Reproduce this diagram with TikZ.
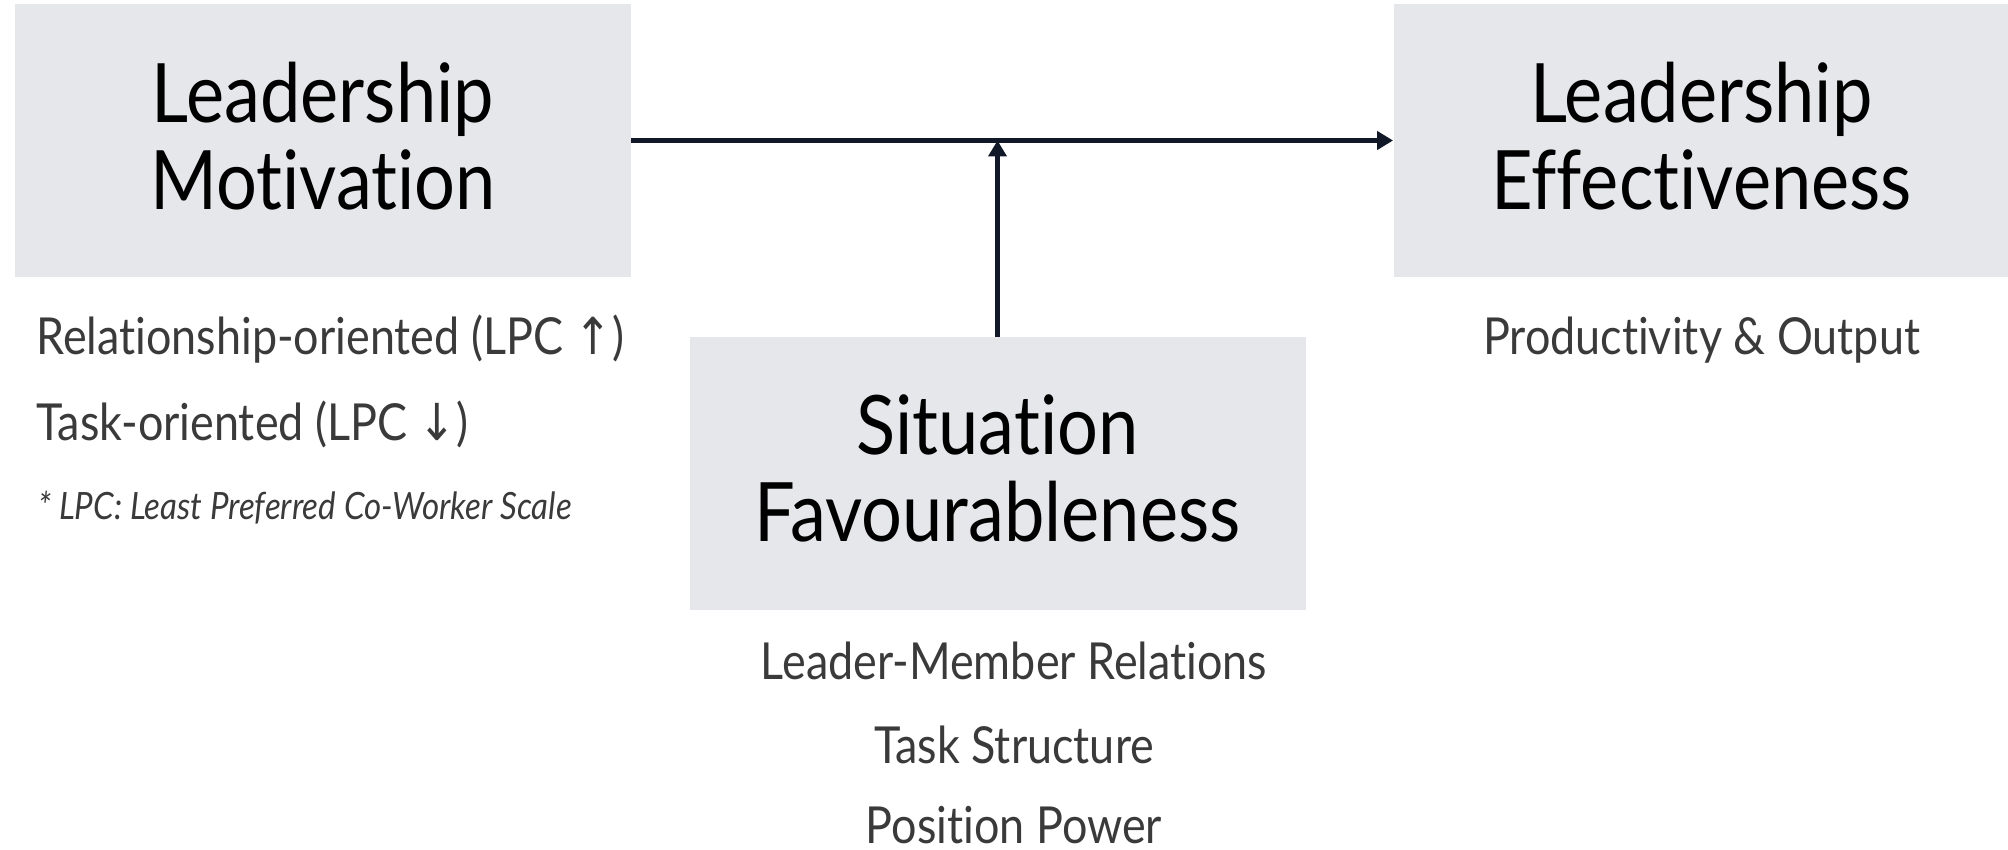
\documentclass[tikz,border=0pt]{standalone}
\usepackage{fontspec}
\setmainfont{Lato}[Ligatures=NoCommon,FakeStretch=0.88]
\newfontfamily\symfont{DejaVu Sans}[FakeStretch=0.88]
\usetikzlibrary{arrows.meta}
\definecolor{boxgray}{HTML}{E5E7EB}
\definecolor{linedark}{HTML}{111827}
\definecolor{notegray}{HTML}{3A3A3A}

\begin{document}
\begin{tikzpicture}[x=0.5pt,y=-0.5pt,
        factor/.style={rectangle,fill=boxgray,minimum width=308pt,minimum height=136.5pt,inner sep=0pt,text depth=5pt,align=center,text=black,font=\fontsize{41}{43.5}\selectfont},
        item/.style={inner sep=0pt,text=notegray,font=\fontsize{25.5}{30}\selectfont},
        link/.style={draw=linedark,line width=2.4pt,-{Triangle[length=8pt,width=9pt]}}]
        \useasboundingbox (0,0) rectangle (2008,850);
        % the three factors
        \node[factor] (motiv)  at (323,140.5)    {Leadership\\Motivation};
        \node[factor] (effect) at (1701.5,140.5) {Leadership\\Effectiveness};
        \node[factor] (situ)   at (997.5,473.5)  {Situation\\Favourableness};
        % what goes under them
        \node[item,anchor=base west] (rel)  at (36,355) {Relationship-oriented (LPC {\symfont ↑})};
        \node[item,anchor=base west] (task) at (36,440) {Task-oriented (LPC {\symfont ↓})};
        \node[item,anchor=base west,font=\itshape\fontsize{18.8}{20}\selectfont] (lpc) at (38,519) {* LPC: Least Preferred Co-Worker Scale};
        \node[item,anchor=base] (prod) at (1701.5,355) {Productivity \& Output};
        \node[item,anchor=base] (lmr)  at (1014,679) {Leader-Member Relations};
        \node[item,anchor=base] (ts)   at (1014,763) {Task Structure};
        \node[item,anchor=base] (pp)   at (1014,843) {Position Power};
        % arrows
        \coordinate (meet) at (situ.north |- motiv.east);
        \draw[link] (motiv.east) -- (effect.west);
        \draw[link] (situ.north) -- (meet);
      \end{tikzpicture}
\end{document}
